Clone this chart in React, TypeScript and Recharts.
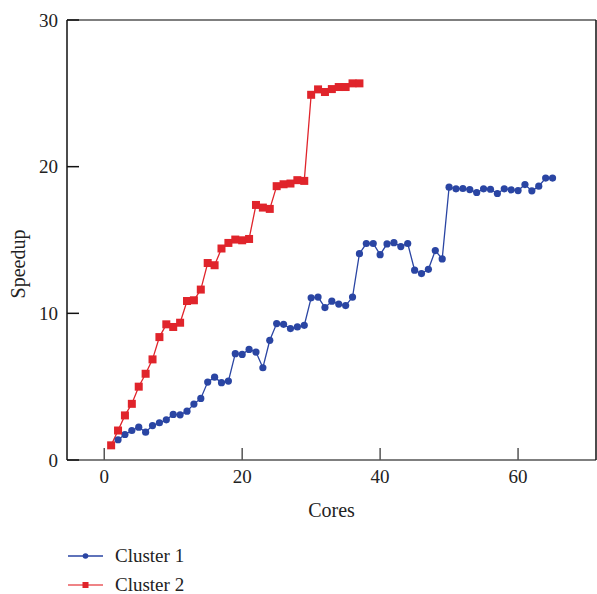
import { LineChart, Line, XAxis, YAxis } from "recharts"

const cores1 = [2, 3, 4, 5, 6, 7, 8, 9, 10, 11, 12, 13, 14, 15, 16, 17, 18, 19, 20, 21, 22, 23, 24, 25, 26, 27, 28, 29, 30, 31, 32, 33, 34, 35, 36, 37, 38, 39, 40, 41, 42, 43, 44, 45, 46, 47, 48, 49, 50, 51, 52, 53, 54, 55, 56, 57, 58, 59, 60, 61, 62, 63, 64, 65]
const speedup1 = [
  1.38, 1.74, 2.01, 2.24, 1.9, 2.35, 2.54, 2.74, 3.11, 3.08, 3.33, 3.81, 4.2, 5.31, 5.65, 5.27, 5.38,
  7.25, 7.2, 7.54, 7.36, 6.29, 8.16, 9.3, 9.25, 8.96, 9.07, 9.18, 11.06, 11.11, 10.39, 10.83, 10.63,
  10.53, 11.11, 14.07, 14.76, 14.76, 14.0, 14.73, 14.82, 14.55, 14.76, 12.94, 12.71, 13.0, 14.28, 13.71,
  18.6, 18.49, 18.51, 18.44, 18.24, 18.49, 18.46, 18.17, 18.49, 18.42, 18.37, 18.78, 18.35, 18.67, 19.22, 19.22,
]

const cores2 = [1, 2, 3, 4, 5, 6, 7, 8, 9, 10, 11, 12, 13, 14, 15, 16, 17, 18, 19, 20, 21, 22, 23, 24, 25, 26, 27, 28, 29, 30, 31, 32, 33, 34, 35, 36, 37]
const speedup2 = [
  1.0, 2.01, 3.04, 3.83, 5.0, 5.88, 6.86, 8.38, 9.25, 9.07, 9.36, 10.84, 10.89, 11.62, 13.43, 13.28,
  14.42, 14.8, 15.03, 14.98, 15.07, 17.39, 17.21, 17.12, 18.67, 18.8, 18.85, 19.08, 19.03, 24.9, 25.27,
  25.09, 25.29, 25.43, 25.43, 25.68, 25.68,
]

const xTicks = [0, 20, 40, 60]
const yTicks = [0, 10, 20, 30]

const BLUE = "#2a45a3"
const RED = "#e0242b"
const FONT = "'Liberation Serif', 'Times New Roman', serif"
const TEXT = "#222"

const cluster1 = cores1.map((c, i) => ({ x: c, y: speedup1[i] }))
const cluster2 = cores2.map((c, i) => ({ x: c, y: speedup2[i] }))

const SquareDot = (props: any) => {
  const { cx, cy, key } = props
  if (cx == null || cy == null) return <g key={key} />
  return <rect key={key} x={cx - 4} y={cy - 4} width={8} height={8} fill={RED} />
}

const blank = () => ""

export default function App() {
  return (
    <div style={{ position: "absolute", left: 0, top: 0, width: 597, height: 594, background: "#fff", fontFamily: FONT, overflow: "hidden" }}>
      <LineChart width={597} height={594} margin={{ top: 19, right: 0, left: 12, bottom: 74 }}>
        <XAxis
          type="number"
          dataKey="x"
          domain={[-5.4, 71.3]}
          ticks={xTicks}
          allowDataOverflow
          tickSize={-12}
          tickMargin={22}
          height={60}
          stroke="#555"
          strokeWidth={1.5}
          tick={{ fill: TEXT, fontSize: 19, fontFamily: FONT }}
          label={{ value: "Cores", position: "insideBottom", offset: 3, fill: TEXT, fontSize: 20, fontFamily: FONT }}
        />
        <XAxis
          xAxisId="top"
          orientation="top"
          type="number"
          domain={[-5.4, 71.3]}
          ticks={xTicks}
          allowDataOverflow
          tickSize={-12}
          height={1}
          stroke="#555"
          strokeWidth={1.5}
          tickFormatter={blank}
        />
        <YAxis
          type="number"
          domain={[0, 30]}
          ticks={yTicks}
          tickSize={-12}
          tickMargin={21}
          width={55}
          stroke="#111"
          strokeWidth={1.5}
          tick={{ fill: TEXT, fontSize: 19, fontFamily: FONT }}
          label={{
            value: "Speedup",
            angle: -90,
            position: "insideLeft",
            offset: 6,
            dy: 24,
            fill: TEXT,
            fontSize: 20,
            fontFamily: FONT,
            style: { textAnchor: "middle" },
          }}
        />
        <YAxis
          yAxisId="right"
          orientation="right"
          type="number"
          domain={[0, 30]}
          ticks={yTicks}
          tickSize={-12}
          width={1}
          stroke="#111"
          strokeWidth={1.5}
          tickFormatter={blank}
        />
        <Line
          data={cluster1}
          dataKey="y"
          name="Cluster 1"
          stroke={BLUE}
          strokeWidth={1.3}
          dot={{ r: 3.6, fill: BLUE, stroke: BLUE, strokeWidth: 0 }}
          isAnimationActive={false}
        />
        <Line
          data={cluster2}
          dataKey="y"
          name="Cluster 2"
          stroke={RED}
          strokeWidth={1.3}
          dot={SquareDot}
          isAnimationActive={false}
        />
      </LineChart>
      <div style={{ position: "absolute", left: 68, top: 545, fontSize: 19, color: TEXT, lineHeight: "22px" }}>
        <div style={{ display: "flex", alignItems: "center", height: 22, marginBottom: 7 }}>
          <svg width={36} height={10} style={{ marginRight: 11 }}>
            <line x1={0} y1={5} x2={35} y2={5} stroke={BLUE} strokeWidth={1.5} />
            <circle cx={17.5} cy={5} r={2.8} fill={BLUE} />
          </svg>
          Cluster 1
        </div>
        <div style={{ display: "flex", alignItems: "center", height: 22 }}>
          <svg width={36} height={10} style={{ marginRight: 11 }}>
            <line x1={0} y1={5} x2={35} y2={5} stroke="#ea5a5e" strokeWidth={1.5} />
            <rect x={14.5} y={2} width={6} height={6} fill={RED} />
          </svg>
          Cluster 2
        </div>
      </div>
    </div>
  )
}
